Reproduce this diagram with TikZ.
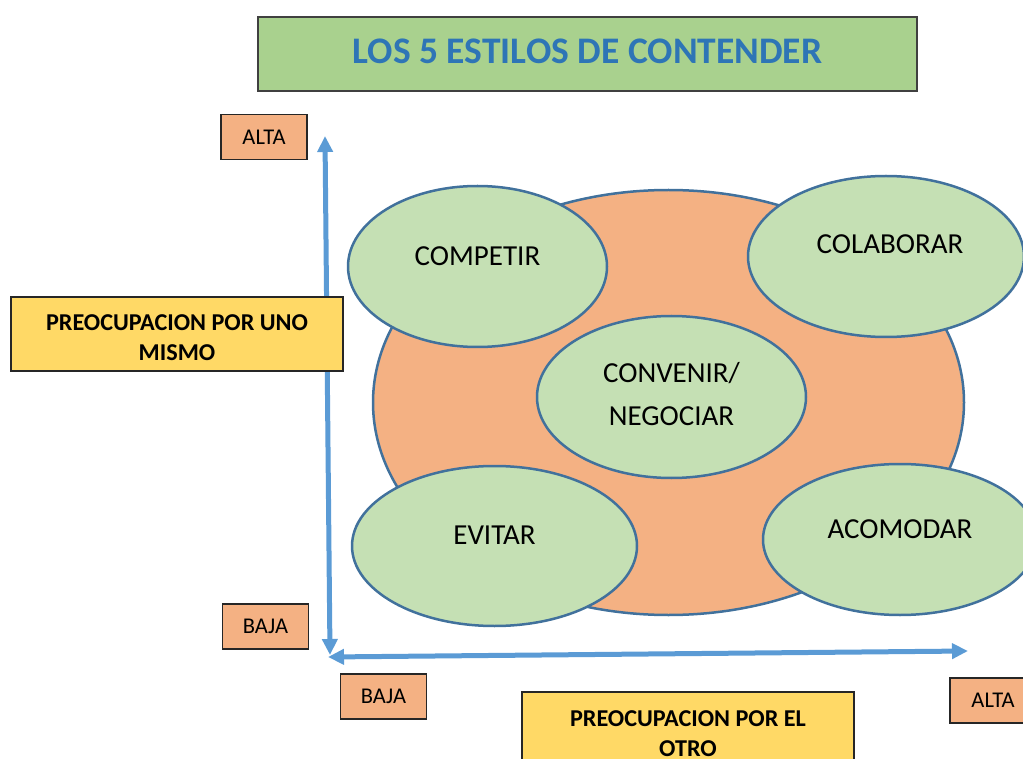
\documentclass[tikz,border=0pt]{standalone}
\usepackage{fontspec}
\setmainfont{Carlito}
\usetikzlibrary{shapes.geometric,arrows.meta}
\definecolor{titlegreen}{HTML}{A9D18E}
\definecolor{titleborder}{HTML}{404040}
\definecolor{titleblue}{HTML}{2E75B6}
\definecolor{orangefill}{HTML}{F4B183}
\definecolor{yellowfill}{HTML}{FFD966}
\definecolor{lightgreen}{HTML}{C5E0B4}
\definecolor{ellborder}{HTML}{41719C}
\definecolor{axisblue}{HTML}{5B9BD5}
\begin{document}
\begin{tikzpicture}[x=1pt,y=-1pt,
  titlebox/.style={draw=titleborder,line width=1.5pt,fill=titlegreen,minimum width=659pt,minimum height=74pt,inner sep=0pt},
  titletext/.style={font=\fontsize{37.5}{45}\selectfont\bfseries,text=titleblue},
  levelbox/.style={draw=black!85,line width=1.2pt,fill=orangefill,minimum width=86pt,minimum height=45pt,inner sep=0pt,
    font=\fontsize{22.5}{27}\selectfont},
  concernbox/.style={draw=black!85,line width=1.2pt,fill=yellowfill,minimum width=332pt,minimum height=74pt,inner sep=0pt},
  concerntext/.style={font=\fontsize{24.2}{30}\selectfont\bfseries,align=center},
  bigell/.style={ellipse,draw=ellborder,line width=2.5pt,fill=orangefill,inner sep=0pt},
  styleell/.style={ellipse,draw=ellborder,line width=2.5pt,fill=lightgreen,inner sep=0pt},
  elltext/.style={font=\fontsize{29}{43}\selectfont,align=center},
  axisarrow/.style={draw=axisblue,line width=5pt,{Triangle[length=16pt,width=15pt]}-{Triangle[length=16pt,width=15pt]}}
]
\useasboundingbox (0,0) rectangle (1023,759);
\clip (0,0) rectangle (1023,759);

% axes
\coordinate (ytop) at (325,136);
\coordinate (ybot) at (330,655);
\coordinate (xleft) at (328,657);
\coordinate (xright) at (968,651);
\draw[axisarrow] (ybot) -- (ytop);
\draw[axisarrow] (xleft) -- (xright);

% title
\node[titlebox,label={[titletext,yshift=3pt]center:LOS 5 ESTILOS DE CONTENDER}] (title) at (587.5,54) {};

% level labels
\node[levelbox] (altay) at (264,137) {ALTA};
\node[levelbox] (bajay) at (265.5,626.5) {BAJA};
\node[levelbox] (bajax) at (383.5,696.5) {BAJA};
\node[levelbox] (altax) at (993,700.5) {ALTA};

% concern boxes
\node[concernbox,label={[concerntext,yshift=-4pt]center:PREOCUPACION POR UNO\\MISMO}] (uno) at (177,334) {};
\node[concernbox,label={[concerntext,yshift=-5pt]center:PREOCUPACION POR EL\\OTRO}] (otro) at (688,729) {};

% big ellipse
\node[bigell,minimum width=591pt,minimum height=425pt] (big) at (668.5,402.5) {};

% style ellipses
\node[styleell,minimum width=259pt,minimum height=161pt,label={[elltext,yshift=10.5pt]center:COMPETIR}] (competir) at (477.5,266.5) {};
\node[styleell,minimum width=276pt,minimum height=161pt,label={[elltext,xshift=4pt,yshift=12pt]center:COLABORAR}] (colaborar) at (886,256.5) {};
\node[styleell,minimum width=269pt,minimum height=162pt,label={[elltext,yshift=3pt]center:CONVENIR/\\NEGOCIAR}] (convenir) at (671.5,397) {};
\node[styleell,minimum width=285pt,minimum height=160pt,label={[elltext,yshift=11pt]center:EVITAR}] (evitar) at (494.5,546) {};
\node[styleell,minimum width=274pt,minimum height=151pt,label={[elltext,yshift=10.5pt]center:ACOMODAR}] (acomodar) at (900,539.5) {};
\end{tikzpicture}
\end{document}
